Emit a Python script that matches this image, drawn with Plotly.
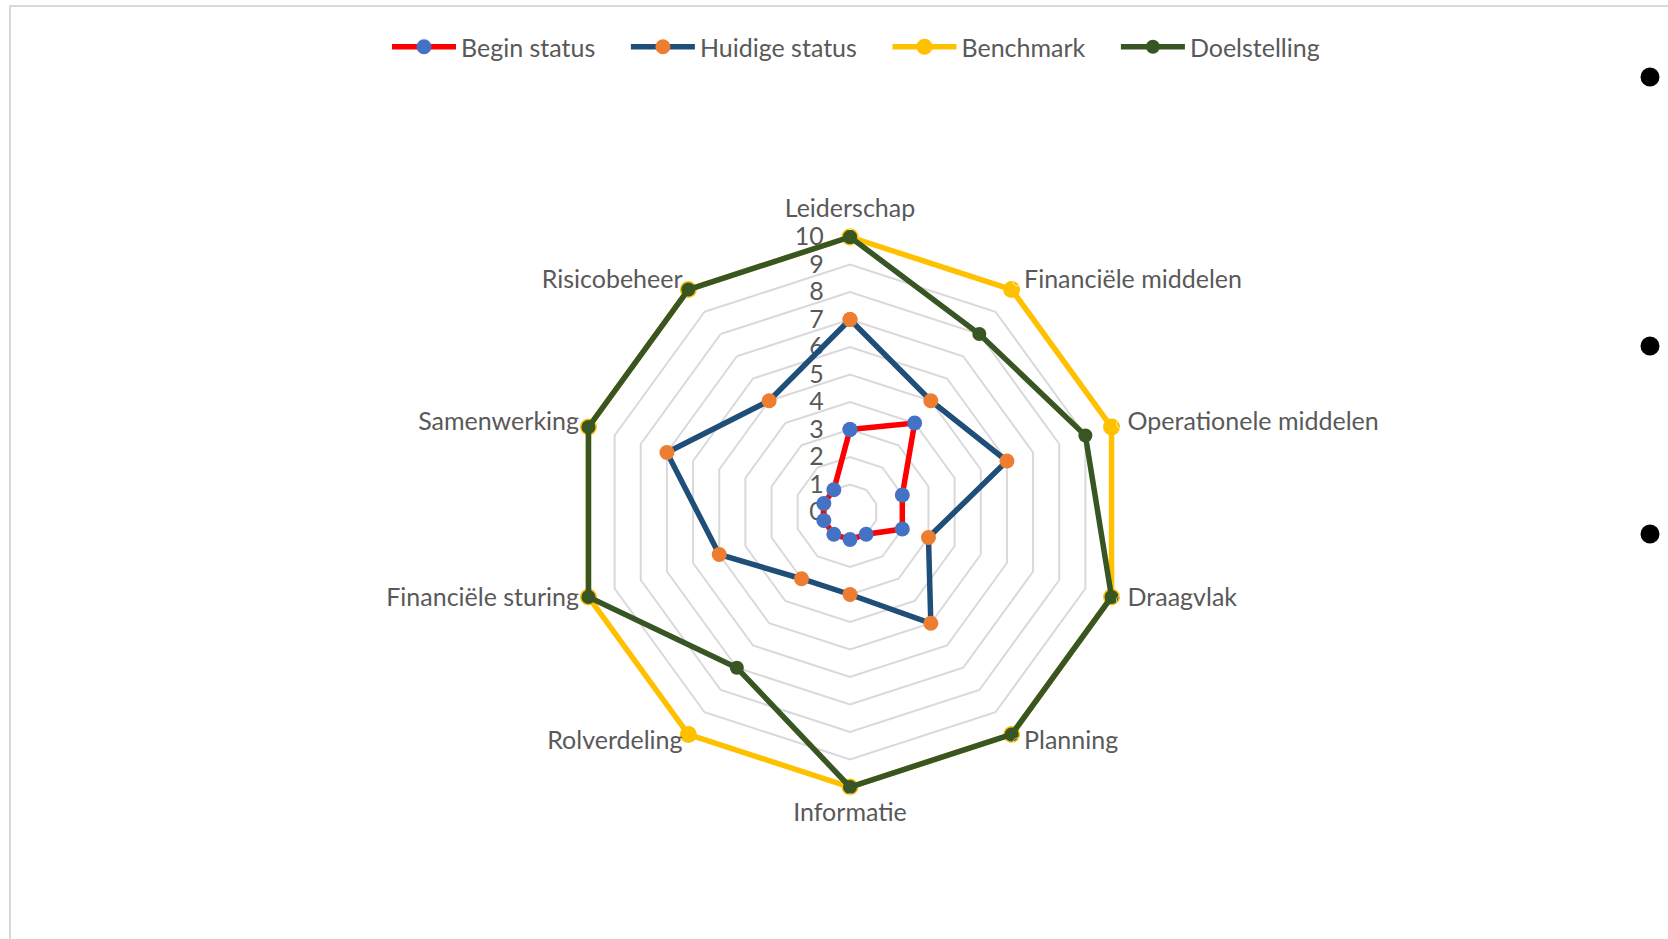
import plotly.graph_objects as go

categories = ["Leiderschap", "Financiële middelen", "Operationele middelen", "Draagvlak",
              "Planning", "Informatie", "Rolverdeling", "Financiële sturing",
              "Samenwerking", "Risicobeheer"]
begin_status = [3, 4, 2, 2, 1, 1, 1, 1, 1, 1]
huidige_status = [7, 5, 6, 3, 5, 3, 3, 5, 7, 5]
benchmark = [10, 10, 10, 10, 10, 10, 10, 10, 10, 10]
doelstelling = [10, 8, 9, 10, 10, 10, 7, 10, 10, 10]
radial_ticks = [0, 1, 2, 3, 4, 5, 6, 7, 8, 9, 10]
r_max = 10
r_axis_max = 10.4      # a bit beyond the outer ring so thick lines and labels are kept
label_pad = 0.36

W, H = 1668, 939
FONT = "Lato"
TXT = "#595959"
GRID = "#D9D9D9"
FS = 25
NB = "\u00a0"

series = [
    ("Begin status", begin_status, "#FF0000", "#4472C4", 15),
    ("Huidige status", huidige_status, "#1F4E79", "#ED7D31", 15),
    ("Benchmark", benchmark, "#FFC000", "#FFC000", 17),
    ("Doelstelling", doelstelling, "#375623", "#375623", 14),
]

fig = go.Figure()
for i, (name, vals, lc, mc, ms) in enumerate(series):
    label = name + (NB * 4 if i < len(series) - 1 else "")
    fig.add_trace(go.Scatterpolar(
        r=vals + vals[:1], theta=categories + categories[:1], name=label,
        mode="lines+markers", cliponaxis=False,
        line=dict(color=lc, width=5.5),
        marker=dict(color=mc, size=ms),
    ))

# category labels placed just outside the outer ring
n = len(categories)
positions, offs = [], []
for i in range(n):
    if i == 0:
        positions.append("top center"); offs.append(5)
    elif i * 2 == n:
        positions.append("bottom center"); offs.append(6.5)
    elif i < n / 2:
        positions.append("middle right"); offs.append(9)
    else:
        positions.append("middle left"); offs.append(0)
fig.add_trace(go.Scatterpolar(
    r=[r_max + label_pad] * n, theta=categories, mode="markers+text", text=categories,
    textposition=positions, textfont=dict(size=FS, color=TXT, family=FONT),
    marker=dict(size=offs, color="rgba(0,0,0,0)"), cliponaxis=False,
    showlegend=False, hoverinfo="skip",
))

cx, cy = 850, 512
R = 275 * r_axis_max / r_max
fig.update_layout(
    width=W, height=H,
    margin=dict(l=0, r=0, t=0, b=0),
    paper_bgcolor="white", plot_bgcolor="white",
    font=dict(family=FONT, color=TXT, size=FS),
    polar=dict(
        domain=dict(x=[(cx - R) / W, (cx + R) / W], y=[1 - (cy + R) / H, 1 - (cy - R) / H]),
        bgcolor="white",
        gridshape="linear",
        angularaxis=dict(direction="clockwise", rotation=90, showgrid=False,
                         showline=False, ticks="", showticklabels=False, layer="below traces"),
        radialaxis=dict(range=[0, r_axis_max], tickvals=radial_ticks, ticktext=[str(t) for t in radial_ticks],
                        angle=90, tickangle=90, side="counterclockwise",
                        showline=False, ticks="outside", ticklen=17, tickcolor="rgba(0,0,0,0)",
                        gridcolor=GRID, gridwidth=1.5, layer="below traces",
                        tickfont=dict(size=FS, color=TXT, family=FONT)),
    ),
    legend=dict(orientation="h", x=856 / W, xanchor="center", y=1 - 47 / H, yanchor="middle",
                font=dict(size=FS, color=TXT, family=FONT), itemwidth=64,
                bgcolor="rgba(0,0,0,0)"),
    shapes=[
        dict(type="rect", xref="paper", yref="paper", x0=10 / W, x1=1.02, y0=-0.02, y1=1 - 6 / H,
             line=dict(color=GRID, width=2)),
    ] + [
        dict(type="circle", xref="paper", yref="paper", x0=(1650 - 9.5) / W, x1=(1650 + 9.5) / W,
             y0=1 - (yy + 9.5) / H, y1=1 - (yy - 9.5) / H, fillcolor="black", line=dict(width=0))
        for yy in (77, 346, 534)
    ],
)

fig.write_html("out.html", config={"displayModeBar": False},
               post_script="document.body.style.margin='0';document.body.style.overflow='hidden';")
